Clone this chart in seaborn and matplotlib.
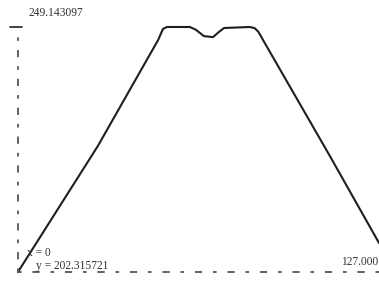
import pandas as pd
import matplotlib
matplotlib.use("Agg")
import matplotlib.pyplot as plt
import seaborn as sns

# values
x_vals = [0.0, 28.1, 49.3, 51.0, 52.4, 60.5, 62.6, 65.4, 68.6, 70.7, 72.5,
          81.6, 83.3, 84.6, 86.2, 109.8, 127.0]
y_vals = [202.32, 226.4, 246.66, 248.76, 249.14, 249.14, 248.6, 247.4, 247.2,
          248.2, 248.95, 249.14, 248.9, 248.2, 246.66, 224.4, 207.86]
y_max_label = "249.143097"
y_min_label = "y = 202.315721"
x_min_label = "x = 0"
x_max_label = "127.000"
y_min = 202.315721
y_max = 249.143097
x_max = 127.0

sns.set_style("white")
plt.rcParams['font.family'] = ['Liberation Serif', 'DejaVu Serif']

data = pd.DataFrame({"x": x_vals, "y": y_vals})

fig = plt.figure(figsize=(3.79, 2.82), dpi=100)
ax = fig.add_axes([0, 0, 1, 1])
sns.lineplot(data=data, x="x", y="y", ax=ax, color="#1e1e1e", linewidth=1.5,
             estimator=None, sort=False)

ax.set_xlim(-6.33, 127.0)
ax.set_ylim(200.40, 254.30)
ax.axis("off")

# dash-dot axes
ax.plot([0, 0], [y_min, y_max - 0.5], color="#555555", linewidth=1.3,
        dashes=(2, 5, 4, 5))
ax.plot([0, x_max], [y_min, y_min], color="#555555", linewidth=1.3,
        dashes=(2, 6, 4, 6))
ax.plot([-2.8, 1.4], [y_max, y_max], color="#333333", linewidth=1.3)

tc = "#333333"
ax.text(3.6, 251.9, y_max_label, fontsize=8.3, color=tc, va="center")
ax.text(3.0, 205.9, x_min_label, fontsize=8.3, color=tc, va="center")
ax.text(6.5, 203.5, y_min_label, fontsize=8.3, color=tc, va="center")
ax.text(126.8, 204.3, x_max_label, fontsize=8.3, color=tc, va="center", ha="right")

fig.savefig("out.png", dpi=100)
